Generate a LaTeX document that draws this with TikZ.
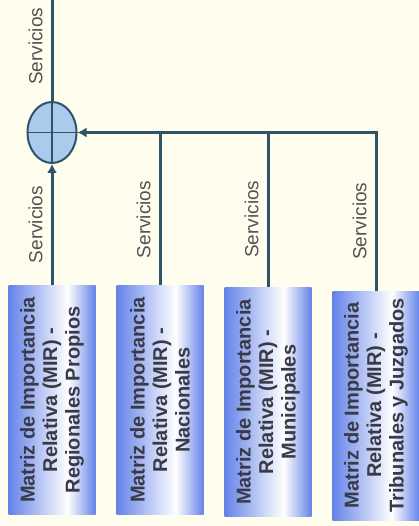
\documentclass[tikz,border=0pt]{standalone}
\usepackage{fontspec}
\setmainfont{Liberation Sans}
\usetikzlibrary{positioning, shapes.geometric, arrows.meta}

\definecolor{paper}{RGB}{255,253,238}
\definecolor{flow}{RGB}{46,84,104}
\definecolor{mirblue}{RGB}{100,131,232}
\definecolor{sumfill}{RGB}{172,202,236}
\definecolor{mirink}{RGB}{58,58,70}
\definecolor{srvink}{RGB}{82,82,82}
\pgfdeclarehorizontalshading{mirshade}{100bp}{color(0bp)=(mirblue); color(25bp)=(mirblue); color(59bp)=(white); color(75bp)=(mirblue); color(100bp)=(mirblue)}

\begin{document}
\begin{tikzpicture}[x=1pt,y=-1pt,node distance=108pt,on grid,>={Latex[length=9pt,width=10pt]},
		mir/.style={shade, shading=mirshade, minimum width=87pt, minimum height=229pt, inner sep=0pt},
		mirtext/.style={rotate=90, align=center, text=mirink, font=\bfseries\fontsize{20}{22.5}\selectfont},
		srv/.style={sloped, above=6pt, inner sep=2pt, text=srvink, font=\fontsize{19}{21}\selectfont},
		flowline/.style={draw=flow, line width=3pt}]
			\path[use as bounding box, fill=paper] (0,0) rectangle (419,526);
			\node[ellipse, draw=flow, line width=2pt, fill=sumfill, minimum width=49pt, minimum height=61pt, inner sep=0pt] (sum) at (52,132.5) {};
			\coordinate (top) at (52,0);
			\node[mir] (reg) at (52,400)		{};
			\node[mir] (nac) [right=of reg]		{};
			\node[mir] (mun) [right=of nac, yshift=-2pt]	{};
			\node[mir] (trib) [right=of mun, yshift=-3.5pt]	{};
			\node[mirtext] (regtxt) at (reg)	{Matriz de Importancia\\Relativa (MIR) -\\Regionales Propios};
			\node[mirtext] (nactxt) at (nac)	{Matriz de Importancia\\Relativa (MIR) -\\Nacionales};
			\node[mirtext] (muntxt) at (mun)	{Matriz de Importancia\\Relativa (MIR) -\\Municipales};
			\node[mirtext] (tribtxt) at (trib)	{Matriz de Importancia\\Relativa (MIR) -\\Tribunales y Juzgados};
			\draw[flowline,->] (reg.north) -- node[srv] {Servicios} (sum.south);
			\draw[flowline,->] (trib.north) |- node[srv,pos=0.22] {Servicios} (sum.east);
			\draw[flowline] (nac.north) -- node[srv,pos=0.43] {Servicios} (nac.north |- sum.east);
			\draw[flowline] (mun.north) -- node[srv,pos=0.44] {Servicios} (mun.north |- sum.east);
			\draw[flowline] (sum.north) -- node[srv,pos=0.54] {Servicios} (top);
			\draw[flow, line width=1.5pt] (sum.north) -- (sum.south) (sum.west) -- (sum.east);
	\end{tikzpicture}
\end{document}
